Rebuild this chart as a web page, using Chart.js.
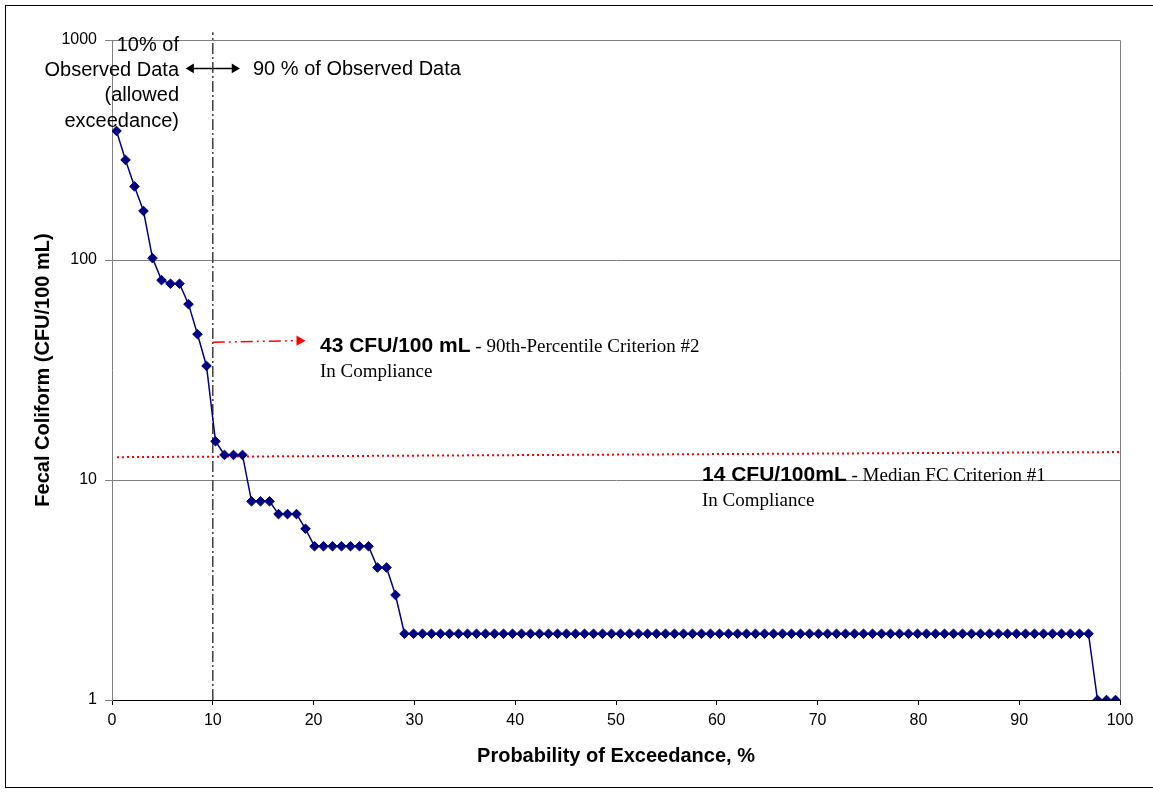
<!DOCTYPE html>
<html>
<head>
<meta charset="utf-8">
<title>Fecal Coliform - Probability of Exceedance</title>
<script src="https://cdn.jsdelivr.net/npm/chart.js@4.4.1/dist/chart.umd.min.js"></script>
<style>
  html, body { margin: 0; padding: 0; background: #fff; }
  #wrap { width: 1153px; height: 792px; }
</style>
</head>
<body>
<div id="wrap"><canvas id="fcChart" width="1153" height="792"></canvas></div>
<script>
// Fecal coliform samples, sorted high to low (CFU/100 mL)
const fecalColiform = [
  386, 285, 216, 167, 102, 81, 78, 78, 63, 46, 33, 15, 13, 13, 13,
  8, 8, 8, 7, 7, 7, 6, 5, 5, 5, 5, 5, 5, 5, 4, 4, 3,
  2, 2, 2, 2, 2, 2, 2, 2, 2, 2, 2, 2, 2, 2, 2, 2, 2, 2, 2, 2,
  2, 2, 2, 2, 2, 2, 2, 2, 2, 2, 2, 2, 2, 2, 2, 2, 2, 2, 2, 2,
  2, 2, 2, 2, 2, 2, 2, 2, 2, 2, 2, 2, 2, 2, 2, 2, 2, 2, 2, 2,
  2, 2, 2, 2, 2, 2, 2, 2, 2, 2, 2, 2, 2, 2, 2, 2, 2,
  1, 1, 1
];
// probability of exceedance (%) from the rank of each sample
const exceedance = fecalColiform.map((v, i) => (i + 0.5) / fecalColiform.length * 100);

const yTickValues = [1, 10, 100, 1000];

// median criterion line (red dotted)
const medianX = [0.5, 100];
const medianY = [12.7, 13.4];
// 90th percentile arrow (red dash-dot)
const p90X = [10, 18.6];
const p90Y = [42.3, 43];
// 10 % split line and the double arrow above it
const splitX = [10, 10];
const splitY = [1, 1085];
const splitArrowX = [7.85, 12.15];
const splitArrowY = [743, 743];

const toPoints = (xs, ys) => xs.map((x, i) => ({ x: x, y: ys[i] }));

const SANS = "Arial, 'Liberation Sans', sans-serif";
const SERIF = "'Times New Roman', 'Liberation Serif', serif";

// white page, outer frame and plot box
const framePlugin = {
  id: 'frame',
  beforeDraw(chart) {
    const ctx = chart.ctx;
    ctx.save();
    ctx.fillStyle = '#fff';
    ctx.fillRect(0, 0, chart.width, chart.height);
    ctx.strokeStyle = '#000';
    ctx.lineWidth = 1;
    ctx.strokeRect(5.5, 5.5, 1160, 782);
    ctx.restore();
  },
  beforeDatasetsDraw(chart) {
    const { ctx, chartArea: a } = chart;
    ctx.save();
    ctx.strokeStyle = '#808080';
    ctx.lineWidth = 1;
    ctx.beginPath();
    ctx.moveTo(a.left, a.top + 0.5);
    ctx.lineTo(a.right + 0.5, a.top + 0.5);
    ctx.lineTo(a.right + 0.5, a.bottom);
    ctx.stroke();
    ctx.restore();
  }
};

// text notes on the chart
const notesPlugin = {
  id: 'notes',
  afterDraw(chart) {
    const ctx = chart.ctx;
    ctx.save();
    ctx.fillStyle = '#000';
    ctx.textBaseline = 'alphabetic';

    ctx.font = '20px ' + SANS;
    ctx.textAlign = 'right';
    ['10% of', 'Observed Data', '(allowed', 'exceedance)'].forEach((t, i) => {
      ctx.fillText(t, 179, 51 + i * 25.2);
    });
    ctx.textAlign = 'left';
    ctx.fillText('90 % of Observed Data', 253, 75);

    const drawNote = (x, y, bold, rest) => {
      ctx.font = 'bold 21px ' + SANS;
      ctx.fillText(bold, x, y);
      const w = ctx.measureText(bold).width;
      ctx.font = '19px ' + SERIF;
      ctx.fillText(rest, x + w, y);
      ctx.fillText('In Compliance', x, y + 25);
    };
    drawNote(320, 352, '43 CFU/100 mL', ' - 90th-Percentile Criterion #2');
    drawNote(702, 481, '14 CFU/100mL', ' - Median FC Criterion #1');
    ctx.restore();
  }
};

const ctx = document.getElementById('fcChart').getContext('2d');
new Chart(ctx, {
  type: 'scatter',
  data: {
    datasets: [
      {
        label: 'Fecal Coliform',
        data: toPoints(exceedance, fecalColiform),
        showLine: true,
        borderColor: '#000080',
        borderWidth: 1.5,
        pointStyle: 'rectRot',
        pointRadius: 4.8,
        pointBackgroundColor: '#000080',
        pointBorderColor: '#000080',
        pointBorderWidth: 1,
        order: 1
      },
      {
        label: 'Median criterion',
        data: toPoints(medianX, medianY),
        showLine: true,
        borderColor: '#ff0000',
        borderWidth: 2,
        borderDash: [2, 3],
        pointRadius: 0,
        order: 2
      },
      {
        label: '90th percentile',
        data: toPoints(p90X, p90Y),
        showLine: true,
        borderColor: '#ff0000',
        borderWidth: 1.5,
        borderDash: [12, 4, 2, 4, 2, 4],
        pointStyle: 'triangle',
        pointRadius: [0, 6],
        pointRotation: 90,
        pointBackgroundColor: '#ff0000',
        pointBorderColor: '#ff0000',
        pointBorderWidth: 0,
        order: 3
      },
      {
        label: '10% split',
        data: toPoints(splitX, splitY),
        showLine: true,
        clip: false,
        borderColor: '#404040',
        borderWidth: 1.5,
        borderDash: [11, 3, 2, 3],
        pointRadius: 0,
        order: 4
      },
      {
        label: 'split arrow',
        data: toPoints(splitArrowX, splitArrowY),
        showLine: true,
        clip: false,
        borderColor: '#000',
        borderWidth: 1.5,
        pointStyle: 'triangle',
        pointRadius: 5.5,
        pointRotation: [270, 90],
        pointBackgroundColor: '#000',
        pointBorderColor: '#000',
        pointBorderWidth: 0,
        order: 5
      }
    ]
  },
  options: {
    responsive: false,
    animation: false,
    devicePixelRatio: 1,
    layout: { padding: { left: 31, right: 33, top: 40, bottom: 24 } },
    plugins: {
      legend: { display: false },
      tooltip: { enabled: false }
    },
    scales: {
      x: {
        type: 'linear',
        min: 0,
        max: 100,
        afterFit: (scale) => { scale.height = 68; },
        ticks: {
          stepSize: 10,
          color: '#000',
          padding: 6,
          maxRotation: 0,
          font: { family: SANS, size: 16 }
        },
        grid: {
          drawOnChartArea: false,
          drawTicks: true,
          tickLength: 5,
          color: '#000'
        },
        border: { color: '#000', width: 1 },
        title: {
          display: true,
          text: 'Probability of Exceedance, %',
          color: '#000',
          padding: { top: 0, bottom: 0 },
          font: { family: SANS, size: 20, weight: 'bold' }
        }
      },
      y: {
        type: 'logarithmic',
        min: 1,
        max: 1000,
        afterFit: (scale) => { scale.width = 81; },
        afterBuildTicks: (scale) => {
          scale.ticks = yTickValues.map(v => ({ value: v }));
        },
        ticks: {
          color: '#000',
          padding: 8,
          font: { family: SANS, size: 16 },
          callback: (value) => String(value)
        },
        grid: {
          color: (c) => (c.tick && c.tick.value === 1 ? 'rgba(0,0,0,0)' : '#808080'),
          tickColor: '#808080',
          tickLength: 7,
          lineWidth: 1
        },
        border: { color: '#808080', width: 1 },
        title: {
          display: true,
          text: 'Fecal Coliform (CFU/100 mL)',
          color: '#000',
          padding: { top: 0, bottom: 0 },
          font: { family: SANS, size: 20, weight: 'bold' }
        }
      }
    }
  },
  plugins: [framePlugin, notesPlugin]
});
</script>
</body>
</html>
